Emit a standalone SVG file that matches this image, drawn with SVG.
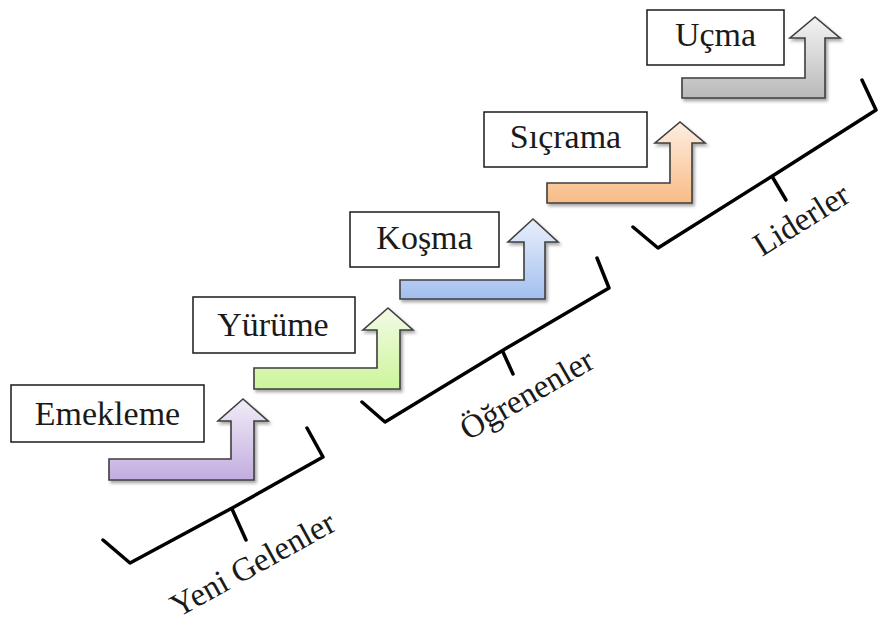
<svg xmlns="http://www.w3.org/2000/svg" width="878" height="623" viewBox="0 0 878 623">
<defs>
<style>
.box{fill:#fff;stroke:#1a1a1a;stroke-width:1.5}
.lbl{font-family:"Liberation Serif","Times New Roman",serif;font-size:34px;fill:#1a1a1a;text-anchor:middle}
.grp{font-family:"Liberation Serif","Times New Roman",serif;font-size:33px;fill:#1a1a1a}
.arrow{stroke:#3f3f3f;stroke-width:1.6;stroke-linejoin:miter;filter:url(#sh)}
.brace{fill:none;stroke:#000;stroke-width:3.5;stroke-linejoin:round;stroke-linecap:round}
</style>
<filter id="sh" x="-10%" y="-10%" width="130%" height="140%">
<feDropShadow dx="2" dy="2.5" stdDeviation="1.6" flood-color="#000" flood-opacity="0.35"/>
</filter>
<linearGradient id="gPurple" x1="0" y1="0" x2="0" y2="1"><stop offset="0" stop-color="#f1ecf8"/><stop offset="1" stop-color="#c2addf"/></linearGradient>
<linearGradient id="gGreen" x1="0" y1="0" x2="0" y2="1"><stop offset="0" stop-color="#f2fbe6"/><stop offset="1" stop-color="#cdf59a"/></linearGradient>
<linearGradient id="gBlue" x1="0" y1="0" x2="0" y2="1"><stop offset="0" stop-color="#e8effb"/><stop offset="1" stop-color="#a3bff0"/></linearGradient>
<linearGradient id="gOrange" x1="0" y1="0" x2="0" y2="1"><stop offset="0" stop-color="#fdeee1"/><stop offset="1" stop-color="#f9bb86"/></linearGradient>
<linearGradient id="gGray" x1="0" y1="0" x2="0" y2="1"><stop offset="0" stop-color="#f4f4f4"/><stop offset="1" stop-color="#b9b9b9"/></linearGradient>
</defs>
<rect width="878" height="623" fill="#fff"/>

<g id="connectors">
<path class="arrow" fill="url(#gPurple)" d="M109,459 H231 V421 H218 L243,399 L268,421 H254 V480 H109 Z"/>
<path class="arrow" fill="url(#gGreen)" d="M254,368 H377 V330 H363 L388,308 L413,330 H400 V389 H254 Z"/>
<path class="arrow" fill="url(#gBlue)" d="M400,280 H524 V242 H508 L533,219 L558,242 H545 V299 H400 Z"/>
<path class="arrow" fill="url(#gOrange)" d="M547,183 H670 V143 H655 L680,122 L705,143 H692 V203 H547 Z"/>
<path class="arrow" fill="url(#gGray)" d="M682,78 H805 V38 H790 L815,17 L840,38 H825 V98 H682 Z"/>
</g>

<g id="node-emekleme"><rect class="box" x="11" y="385" width="193" height="57"/><text class="lbl" x="107.5" y="425">Emekleme</text></g>
<g id="node-yurume"><rect class="box" x="193" y="297" width="162" height="56"/><text class="lbl" x="273" y="336">Yürüme</text></g>
<g id="node-kosma"><rect class="box" x="350" y="212" width="149" height="55"/><text class="lbl" x="424.5" y="249">Koşma</text></g>
<g id="node-sicrama"><rect class="box" x="484" y="112" width="163" height="55"/><text class="lbl" x="565.5" y="148">Sıçrama</text></g>
<g id="node-ucma"><rect class="box" x="647" y="10" width="137" height="55"/><text class="lbl" x="715.5" y="46">Uçma</text></g>

<g id="group-yeni">
<path class="brace" d="M307,428 L323,457 L234,507 L130,563 L103,540"/>
<path class="brace" d="M232,509 L246,540"/>
<text class="grp" transform="translate(178,618) rotate(-29)">Yeni Gelenler</text>
</g>
<g id="group-ogrenenler">
<path class="brace" d="M597,258 L609,288 L505,349 L385,422 L362,402"/>
<path class="brace" d="M503,352 L513,374"/>
<text class="grp" transform="translate(468,441) rotate(-30)">Öğrenenler</text>
</g>
<g id="group-liderler">
<path class="brace" d="M862,80 L876,110 L774,175 L658,248 L633,227"/>
<path class="brace" d="M773,178 L786,200"/>
<text class="grp" transform="translate(762,257) rotate(-32)">Liderler</text>
</g>
</svg>
